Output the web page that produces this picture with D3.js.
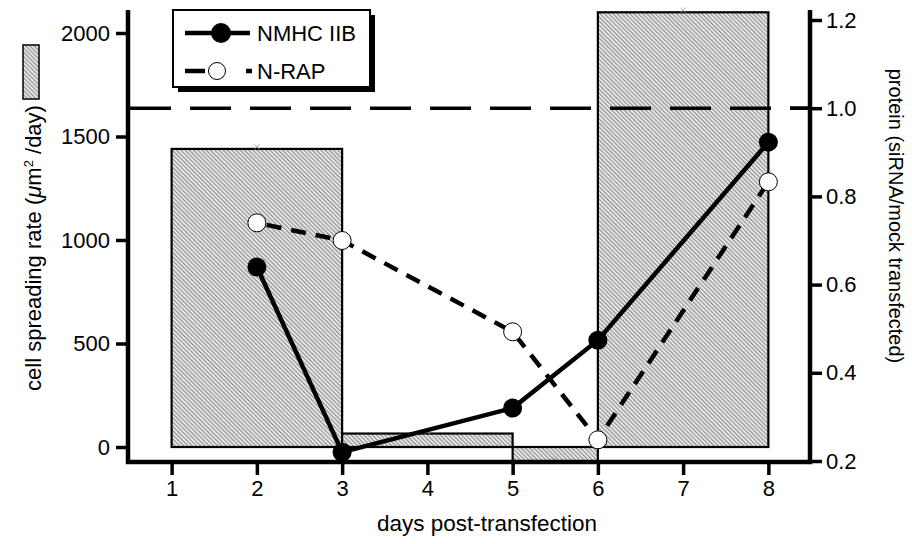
<!DOCTYPE html>
<html>
<head>
<meta charset="utf-8">
<script src="https://cdn.jsdelivr.net/npm/d3@7"></script>
<style>
  body { margin: 0; background: #fff; }
  text { font-family: "Liberation Sans", Arial, sans-serif; fill: #000; }
</style>
</head>
<body>
<svg id="body" width="912" height="544"></svg>
<script>
// days post-transfection
const days = [2, 3, 5, 6, 8]
const nmhcIIB = [0.64, 0.22, 0.32, 0.474, 0.923]
const nRAP = [0.74, 0.70, 0.493, 0.248, 0.833]

// spreading-rate bars (each covers an interval of days)
const barFrom = [1, 3, 5, 6]
const barTo = [3, 5, 6, 8]
const spreadRate = [1440, 65, -70, 2100]

const xTicks = [1, 2, 3, 4, 5, 6, 7, 8]
const leftTicks = [0, 500, 1000, 1500, 2000]
const rightTicks = [0.2, 0.4, 0.6, 0.8, 1.0, 1.2]
const mockLevel = 1.0

let svg = d3.select("#body")

let x = d3.scaleLinear().domain([0.5, 8.5]).range([129, 811])
let yL = d3.scaleLinear().domain([0, 2000]).range([447, 33])
let yR = d3.scaleLinear().domain([0.2, 1.2]).range([461, 20])

const axTop = 10, axBot = 462, axLeft = 128, axRight = 810

// hatch pattern for the bars
let defs = svg.append("defs")
let pat = defs.append("pattern")
    .attr("id", "hatch")
    .attr("patternUnits", "userSpaceOnUse")
    .attr("width", 3).attr("height", 3)
    .attr("patternTransform", "rotate(-45)")
pat.append("rect").attr("width", 3).attr("height", 3).attr("fill", "#f4f4f4")
pat.append("line")
    .attr("x1", 0.75).attr("y1", 0).attr("x2", 0.75).attr("y2", 3)
    .attr("stroke", "#7a7a7a").attr("stroke-width", 1.1)

// bars
let bars = barFrom.map((d, i) => ({ from: d, to: barTo[i], v: spreadRate[i] }))
svg.selectAll("rect.bar")
    .data(bars)
    .enter().append("rect")
    .attr("class", "bar")
    .attr("x", d => x(d.from))
    .attr("width", d => x(d.to) - x(d.from))
    .attr("y", d => Math.min(yL(d.v), yL(0)))
    .attr("height", d => Math.abs(yL(d.v) - yL(0)))
    .attr("fill", "url(#hatch)")
    .attr("stroke", "#000")
    .attr("stroke-width", 2.2)

// faint error marks on bar tops
svg.selectAll("path.err")
    .data(bars)
    .enter().append("path")
    .attr("class", "err")
    .attr("transform", d => "translate(" + x((d.from + d.to) / 2) + "," + (yL(d.v) - 2) + ")")
    .attr("d", d3.symbol(d3.symbolX, 20))
    .attr("fill", "none")
    .attr("stroke", "#999")
    .attr("stroke-width", 0.8)

// mock-transfected reference line
svg.append("line")
    .attr("x1", axLeft).attr("x2", axRight)
    .attr("y1", yR(mockLevel)).attr("y2", yR(mockLevel))
    .attr("stroke", "#000")
    .attr("stroke-width", 3.5)
    .attr("stroke-dasharray", "41,19")
    .attr("stroke-dashoffset", -2)

// N-RAP dashed line
let line = d3.line().x(d => x(d[0])).y(d => yR(d[1]))
let nrapPts = days.map((d, i) => [d, nRAP[i]])
let nmhcPts = days.map((d, i) => [d, nmhcIIB[i]])

svg.append("path")
    .attr("d", line(nrapPts))
    .attr("fill", "none")
    .attr("stroke", "#000")
    .attr("stroke-width", 4.5)
    .attr("stroke-dasharray", "15,10")
    .attr("stroke-dashoffset", -10)

svg.append("path")
    .attr("d", line(nmhcPts))
    .attr("fill", "none")
    .attr("stroke", "#000")
    .attr("stroke-width", 4.5)

svg.selectAll("circle.nrap")
    .data(nrapPts)
    .enter().append("circle")
    .attr("class", "nrap")
    .attr("cx", d => x(d[0])).attr("cy", d => yR(d[1]))
    .attr("r", 9)
    .attr("fill", "#fff").attr("stroke", "#000").attr("stroke-width", 1)

svg.selectAll("circle.nmhc")
    .data(nmhcPts)
    .enter().append("circle")
    .attr("class", "nmhc")
    .attr("cx", d => x(d[0])).attr("cy", d => yR(d[1]))
    .attr("r", 9.5)
    .attr("fill", "#000")

// axes
function styleAxis(g) {
  g.select(".domain").remove()
  g.selectAll(".tick line").attr("stroke", "#000").attr("stroke-width", 3.5)
  g.selectAll(".tick text").style("font-size", "22px")
}

svg.append("g")
    .attr("transform", "translate(" + axLeft + ",0)")
    .call(d3.axisLeft(yL).tickValues(leftTicks).tickSize(12).tickPadding(6)
      .tickFormat(d3.format("d")))
    .call(styleAxis)

svg.append("g")
    .attr("transform", "translate(" + axRight + ",0)")
    .call(d3.axisRight(yR).tickValues(rightTicks).tickSize(12).tickPadding(4)
      .tickFormat(d3.format(".1f")))
    .call(styleAxis)

svg.append("g")
    .attr("transform", "translate(0," + axBot + ")")
    .call(d3.axisBottom(x).tickValues(xTicks).tickSize(13).tickPadding(5))
    .call(styleAxis)

// the 1.0 tick also reaches inward on the right axis
svg.append("line")
    .attr("x1", axRight - 20).attr("x2", axRight)
    .attr("y1", yR(mockLevel)).attr("y2", yR(mockLevel))
    .attr("stroke", "#000").attr("stroke-width", 3.5)

svg.append("path")
    .attr("d", "M" + axLeft + "," + axTop + "V" + axBot + "H" + axRight + "V" + axTop)
    .attr("fill", "none")
    .attr("stroke", "#000")
    .attr("stroke-width", 4.5)

// axis titles
svg.append("text")
    .attr("transform", "translate(" + 487 + ",531)")
    .attr("text-anchor", "middle")
    .style("font-size", "22.5px")
    .text("days post-transfection")

let lt = svg.append("text")
    .attr("transform", "translate(41,248) rotate(-90)")
    .attr("text-anchor", "middle")
    .style("font-size", "22px")
lt.append("tspan").text("cell spreading rate (")
lt.append("tspan").style("font-style", "italic").text("μ")
lt.append("tspan").text("m")
lt.append("tspan").attr("dy", -8).style("font-size", "13px").text("2")
lt.append("tspan").attr("dy", 8).text(" /day)")

svg.append("rect")
    .attr("x", 23).attr("y", 45).attr("width", 16).attr("height", 54)
    .attr("fill", "url(#hatch)")
    .attr("stroke", "#000").attr("stroke-width", 1.5)

svg.append("text")
    .attr("transform", "translate(889,216) rotate(90)")
    .attr("text-anchor", "middle")
    .style("font-size", "20px")
    .text("protein (siRNA/mock transfected)")

// legend
let leg = svg.append("g")
leg.append("rect")
    .attr("x", 178).attr("y", 15).attr("width", 197).attr("height", 77)
    .attr("fill", "#000")
leg.append("rect")
    .attr("x", 173).attr("y", 10).attr("width", 197).attr("height", 77)
    .attr("fill", "#fff").attr("stroke", "#000").attr("stroke-width", 2)

leg.append("line")
    .attr("x1", 185).attr("x2", 250).attr("y1", 33).attr("y2", 33)
    .attr("stroke", "#000").attr("stroke-width", 4.5)
leg.append("circle").attr("cx", 221).attr("cy", 33).attr("r", 10).attr("fill", "#000")
leg.append("text").attr("x", 257).attr("y", 41).style("font-size", "22px").text("NMHC IIB")

leg.append("line")
    .attr("x1", 185).attr("x2", 252).attr("y1", 71).attr("y2", 71)
    .attr("stroke", "#000").attr("stroke-width", 4.5)
    .attr("stroke-dasharray", "20,41,6")
leg.append("circle").attr("cx", 217).attr("cy", 71).attr("r", 8.5)
    .attr("fill", "#fff").attr("stroke", "#000").attr("stroke-width", 1)
leg.append("text").attr("x", 257).attr("y", 79).style("font-size", "22px").text("N-RAP")
</script>
</body>
</html>
